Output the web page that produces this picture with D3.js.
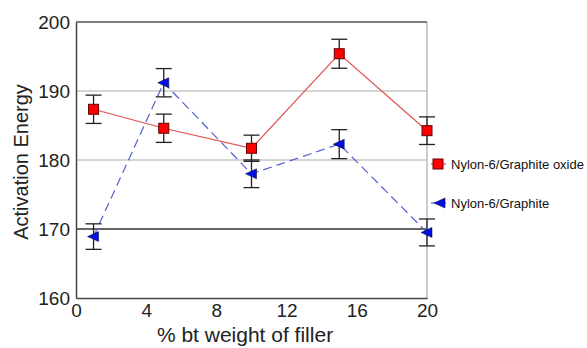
<!DOCTYPE html>
<html>
<head>
<meta charset="utf-8">
<title>Activation Energy</title>
<script src="https://d3js.org/d3.v7.min.js"></script>
<style>
body { margin: 0; background: #fff; }
text { font-family: "Liberation Sans", Arial, sans-serif; }
</style>
</head>
<body>
<div id="chart"></div>
<script>
// values
var filler = [1, 5, 10, 15, 20];
var oxideEa = [187.35, 184.6, 181.7, 195.4, 184.25];
var oxideErr = [2.05, 2.05, 1.9, 2.1, 2.0];
var graphiteEa = [168.9, 191.2, 178.0, 182.3, 169.5];
var graphiteErr = [1.85, 2.05, 2.0, 2.1, 1.95];
var xTicks = [0, 4, 8, 12, 16, 20];
var yTicks = [160, 170, 180, 190, 200];
var seriesNames = ["Nylon-6/Graphite oxide", "Nylon-6/Graphite"];

var W = 587, H = 348;
var margin = {top: 22, right: 160, bottom: 50, left: 76};
var width = 427 - margin.left;
var height = 298 - margin.top;

var svg = d3.select("#chart").append("svg")
  .attr("width", W).attr("height", H);
var g = svg.append("g").attr("transform", "translate(" + margin.left + "," + margin.top + ")");

var x = d3.scaleLinear().domain([0, 20]).range([0, width]);
var y = d3.scaleLinear().domain([160, 200]).range([height, 0]);

// grid lines
g.selectAll("line.grid").data([170, 180, 190]).enter().append("line")
  .attr("x1", 0).attr("x2", width)
  .attr("y1", function(d){ return y(d); }).attr("y2", function(d){ return y(d); })
  .attr("stroke", function(d){ return d == 170 ? "#333" : "#aaa"; })
  .attr("stroke-width", function(d){ return d == 170 ? 1.5 : 1; });

// frame
g.append("line").attr("x1", width).attr("x2", width).attr("y1", 0).attr("y2", height)
  .attr("stroke", "#bbb").attr("stroke-width", 1.5);
g.append("line").attr("x1", 0).attr("x2", width).attr("y1", 0).attr("y2", 0)
  .attr("stroke", "#555").attr("stroke-width", 1.5);

var axisX = d3.axisBottom(x).tickValues(xTicks).tickSize(0).tickPadding(6);
var axisY = d3.axisLeft(y).tickValues(yTicks).tickSize(0).tickPadding(6);

var gx = g.append("g").attr("transform", "translate(0," + height + ")").call(axisX);
var gy = g.append("g").call(axisY);
[gx, gy].forEach(function(a){
  a.select(".domain").attr("stroke", "#444").attr("stroke-width", 1.5);
  a.selectAll("text").attr("font-size", "19px").attr("fill", "#222")
    .style("font-family", "Liberation Sans, Arial, sans-serif");
});

// axis titles
svg.append("text")
  .attr("transform", "translate(21," + 162 + ") rotate(-90)")
  .attr("text-anchor", "middle").attr("dy", "0.35em")
  .attr("font-size", "20px").attr("fill", "#222")
  .text("Activation Energy");
svg.append("text")
  .attr("x", 245).attr("y", 342)
  .attr("text-anchor", "middle")
  .attr("font-size", "21px").attr("fill", "#222")
  .text("% bt weight of filler");

function rows(vals, errs){
  return filler.map(function(f, i){ return {x: f, y: vals[i], e: errs[i]}; });
}
var oxide = rows(oxideEa, oxideErr);
var graphite = rows(graphiteEa, graphiteErr);

var line = d3.line().x(function(d){ return x(d.x); }).y(function(d){ return y(d.y); });

g.append("path").datum(oxide).attr("d", line)
  .attr("fill", "none").attr("stroke", "#e05050").attr("stroke-width", 1.2);
g.append("path").datum(graphite).attr("d", line)
  .attr("fill", "none").attr("stroke", "#5060d0").attr("stroke-width", 1.2)
  .attr("stroke-dasharray", "9,5");

function errorBars(data){
  var eb = g.append("g").attr("stroke", "#222").attr("stroke-width", 1.3);
  data.forEach(function(d){
    var cx = x(d.x);
    eb.append("line").attr("x1", cx).attr("x2", cx).attr("y1", y(d.y + d.e)).attr("y2", y(d.y - d.e));
    eb.append("line").attr("x1", cx - 8).attr("x2", cx + 8).attr("y1", y(d.y + d.e)).attr("y2", y(d.y + d.e));
    eb.append("line").attr("x1", cx - 8).attr("x2", cx + 8).attr("y1", y(d.y - d.e)).attr("y2", y(d.y - d.e));
  });
}
errorBars(oxide);
errorBars(graphite);

var tri = "M-6,0L5,-5L5,5Z";

g.selectAll("rect.ox").data(oxide).enter().append("rect")
  .attr("x", function(d){ return x(d.x) - 5; })
  .attr("y", function(d){ return y(d.y) - 5; })
  .attr("width", 10).attr("height", 10)
  .attr("fill", "#f00").attr("stroke", "#600").attr("stroke-width", 1);

g.selectAll("path.gr").data(graphite).enter().append("path")
  .attr("transform", function(d){ return "translate(" + x(d.x) + "," + y(d.y) + ")"; })
  .attr("d", tri).attr("fill", "#0010e0").attr("stroke", "#002").attr("stroke-width", 0.5);

// legend
var lg = svg.append("g");
lg.append("line").attr("x1", 431).attr("x2", 446).attr("y1", 164).attr("y2", 164)
  .attr("stroke", "#e05050").attr("stroke-width", 1.2);
lg.append("rect").attr("x", 433).attr("y", 159).attr("width", 10).attr("height", 10)
  .attr("fill", "#f00").attr("stroke", "#600");
lg.append("line").attr("x1", 431).attr("x2", 446).attr("y1", 203).attr("y2", 203)
  .attr("stroke", "#5060d0").attr("stroke-width", 1.2);
lg.append("path").attr("transform", "translate(440,203)").attr("d", tri)
  .attr("fill", "#0010e0").attr("stroke", "#002").attr("stroke-width", 0.5);
lg.selectAll("text").data(seriesNames).enter().append("text")
  .attr("x", 451).attr("y", function(d, i){ return i == 0 ? 164 : 203; })
  .attr("dy", "0.35em").attr("font-size", "13px").attr("fill", "#111")
  .text(function(d){ return d; });
</script>
</body>
</html>
